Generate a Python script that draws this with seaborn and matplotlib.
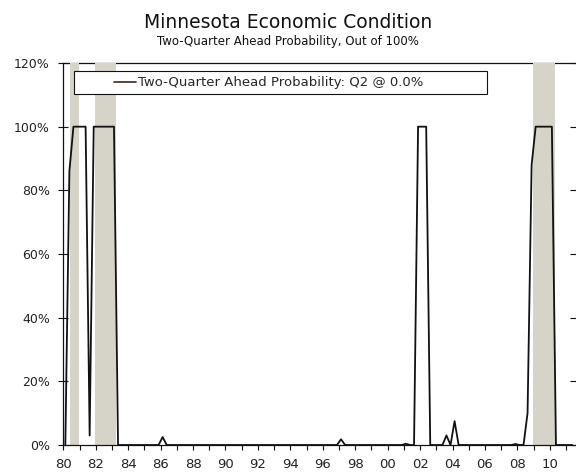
import numpy as np
import pandas as pd
import matplotlib
matplotlib.use('Agg')
import matplotlib.pyplot as plt
import seaborn as sns
from matplotlib.lines import Line2D
from matplotlib.patches import Rectangle

# quarterly probability, 1980Q1 .. 2011Q2 (one row per year, Q1..Q4)
prob = [
    0, 86, 100, 100,      # 1980
    100, 100, 3, 100,     # 1981
    100, 100, 100, 100,   # 1982
    100, 0, 0, 0,         # 1983
    0, 0, 0, 0,           # 1984
    0, 0, 0, 0,           # 1985
    2.5, 0, 0, 0,         # 1986
    0, 0, 0, 0,           # 1987
    0, 0, 0, 0,           # 1988
    0, 0, 0, 0,           # 1989
    0, 0, 0, 0,           # 1990
    0, 0, 0, 0,           # 1991
    0, 0, 0, 0,           # 1992
    0, 0, 0, 0,           # 1993
    0, 0, 0, 0,           # 1994
    0, 0, 0, 0,           # 1995
    0, 0, 0, 0,           # 1996
    1.8, 0, 0, 0,         # 1997
    0, 0, 0, 0,           # 1998
    0, 0, 0, 0,           # 1999
    0, 0, 0, 0,           # 2000
    0.4, 0, 0, 100,       # 2001
    100, 100, 0, 0,       # 2002
    0, 0, 3, 0,           # 2003
    7.5, 0, 0, 0,         # 2004
    0, 0, 0, 0,           # 2005
    0, 0, 0, 0,           # 2006
    0, 0, 0, 0.3,         # 2007
    0, 0, 10, 88,         # 2008
    100, 100, 100, 100,   # 2009
    100, 0, 0, 0,         # 2010
    0, 0,                 # 2011
]

# recession shading (start, end) in decimal years
recessions = [(1980.41, 1980.97), (1981.96, 1983.25), (2008.94, 2010.30)]

title = 'Minnesota Economic Condition'
subtitle = 'Two-Quarter Ahead Probability, Out of 100%'
legend_label = 'Two-Quarter Ahead Probability: Q2 @ 0.0%'

# quarter midpoints as decimal years
n = len(prob)
dates = 1980 + np.arange(n) / 4 + 0.125
df = pd.DataFrame({'date': dates, 'prob': prob})

sns.set_style('ticks')
plt.rcParams['font.family'] = ['DejaVu Sans']

fig = plt.figure(figsize=(5.76, 4.72), dpi=100)
ax = fig.add_axes([63.3 / 576, 1 - 445 / 472, (575 - 63.3) / 576, (445 - 63) / 472])

for start, end in recessions:
    ax.axvspan(start, end, color='#d6d3c8', lw=0, zorder=1)

sns.lineplot(data=df, x='date', y='prob', ax=ax, color='#111111', lw=1.3, zorder=3, legend=False)

ax.set_xlim(1980, 2011.55)
ax.set_ylim(0, 120)

years = list(range(1980, 2012))
ax.set_xticks(years)
ax.set_xticklabels(['%02d' % (y % 100) if y % 2 == 0 else '' for y in years])
ax.set_yticks(range(0, 121, 20))
ax.set_yticklabels(['%d%%' % v for v in range(0, 121, 20)])

ax.set_xlabel('')
ax.set_ylabel('')
ax.tick_params(axis='x', direction='out', length=3.5, width=0.8, color='#111111',
               labelsize=9.5, pad=6, labelcolor='#222222')
ax.tick_params(axis='y', direction='inout', length=6.5, width=0.8, color='#111111',
               labelsize=9, pad=6.5, labelcolor='#222222', right=True)

for side in ['left', 'bottom', 'top']:
    ax.spines[side].set_color('#111111')
    ax.spines[side].set_linewidth(0.9)
ax.spines['right'].set_visible(False)
ax.spines['top'].set_zorder(0.5)

# legend box
box = Rectangle((0.0215, 0.918), 0.806, 0.061, transform=ax.transAxes,
                facecolor='white', edgecolor='#111111', lw=0.8, zorder=4)
ax.add_patch(box)
handle = Line2D([], [], color='#4a3c35', lw=1.3)
leg = ax.legend(handles=[handle], labels=[legend_label], loc='center left',
                bbox_to_anchor=(0.1, 0.9485), frameon=False, fontsize=9.5,
                handlelength=1.6, handletextpad=0.2, borderpad=0, borderaxespad=0)
leg.set_zorder(5)

fig.text(0.5, 1 - 13 / 472, title, ha='center', va='top', fontsize=13.5, color='#111111')
fig.text(0.5, 1 - 35 / 472, subtitle, ha='center', va='top', fontsize=8.5, color='#111111')

fig.savefig('out.png', dpi=100)
